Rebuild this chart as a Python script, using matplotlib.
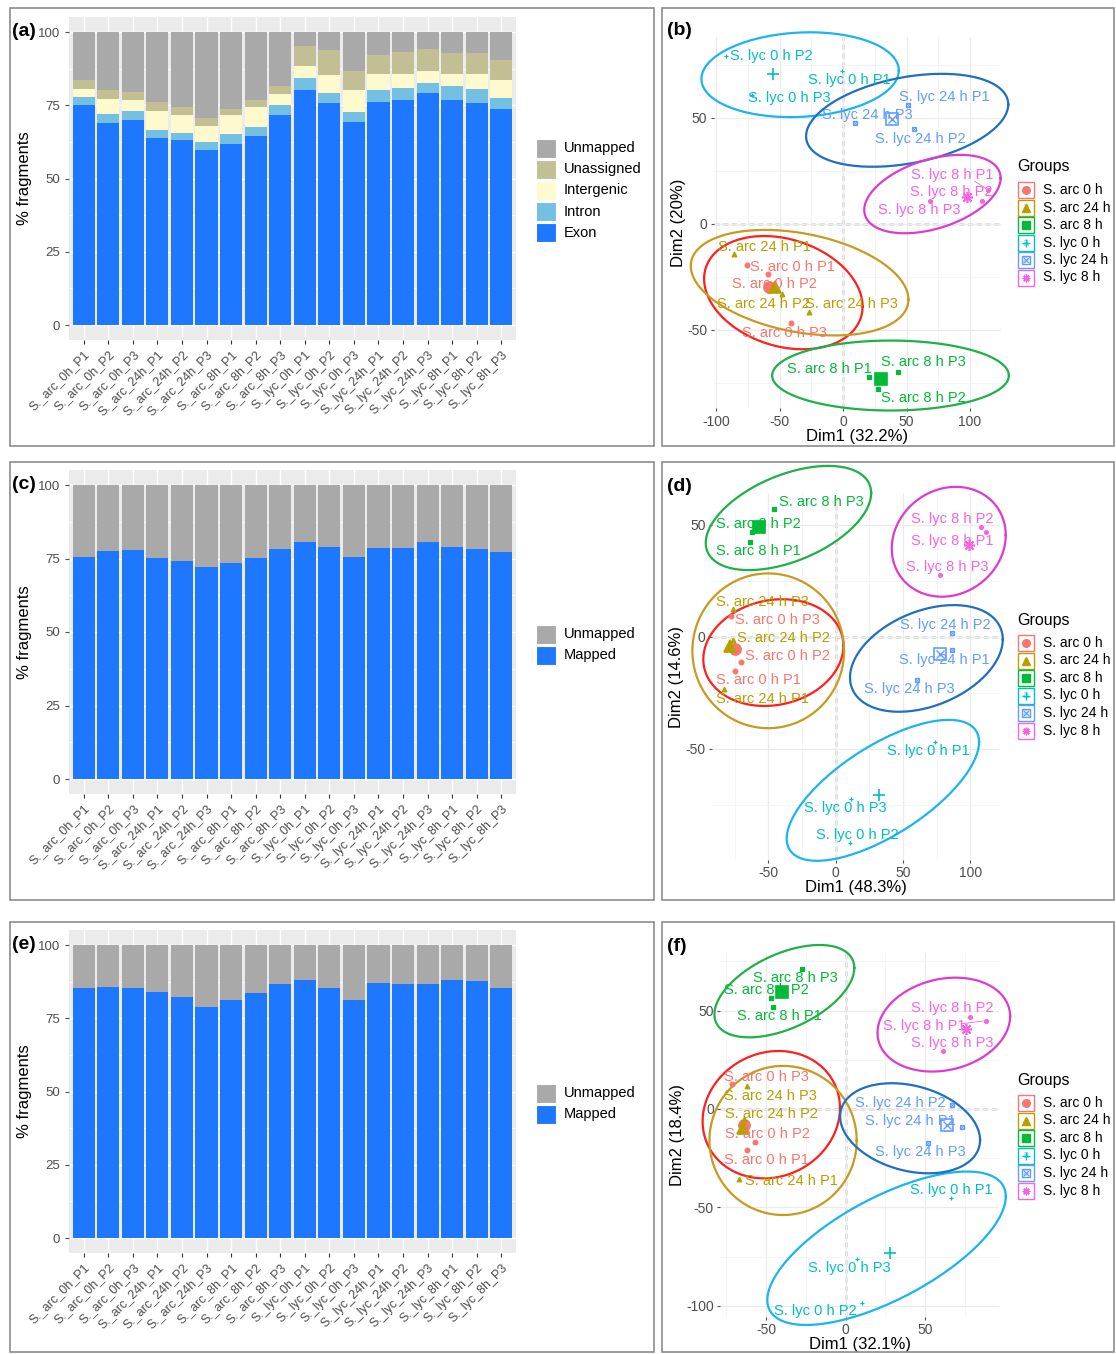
import numpy as np
import matplotlib.pyplot as plt
from matplotlib.patches import Rectangle

plt.rcParams['font.family'] = ['Liberation Sans', 'DejaVu Sans']
plt.rcParams['axes.unicode_minus'] = False

W, H = 1116, 1354

# ---------------- data: bar panels ----------------
samples = ['S._arc_0h_P1', 'S._arc_0h_P2', 'S._arc_0h_P3',
           'S._arc_24h_P1', 'S._arc_24h_P2', 'S._arc_24h_P3',
           'S._arc_8h_P1', 'S._arc_8h_P2', 'S._arc_8h_P3',
           'S._lyc_0h_P1', 'S._lyc_0h_P2', 'S._lyc_0h_P3',
           'S._lyc_24h_P1', 'S._lyc_24h_P2', 'S._lyc_24h_P3',
           'S._lyc_8h_P1', 'S._lyc_8h_P2', 'S._lyc_8h_P3']

exon = [75.0, 69.0, 69.9, 64.0, 63.1, 59.9, 61.9, 64.4, 71.6,
        80.3, 75.8, 69.3, 76.1, 76.7, 79.1, 76.8, 75.8, 73.9]
intron = [2.8, 2.9, 3.1, 2.5, 2.6, 2.6, 3.2, 3.2, 3.6,
          4.0, 3.5, 3.4, 4.0, 4.3, 3.5, 4.7, 4.9, 3.7]
intergenic = [2.9, 5.1, 3.7, 6.5, 6.1, 5.6, 6.5, 6.8, 3.8,
              4.0, 5.9, 7.4, 5.5, 4.8, 4.0, 4.1, 4.9, 5.9]
unassigned = [2.8, 3.3, 2.8, 3.0, 2.6, 2.6, 2.0, 2.3, 2.6,
              6.8, 8.6, 6.7, 6.7, 7.4, 7.5, 7.2, 7.2, 7.1]

mapped_c = [75.6, 77.6, 77.9, 75.1, 74.1, 72.1, 73.5, 75.2, 78.1,
            80.6, 79.0, 75.6, 78.7, 78.6, 80.5, 79.0, 78.3, 77.3]
mapped_e = [85.2, 85.6, 85.5, 84.0, 82.1, 78.7, 81.2, 83.8, 86.8,
            88.2, 85.2, 81.2, 87.2, 86.7, 86.7, 88.1, 87.9, 85.5]

# ---------------- data: PCA panels ----------------
groups = ['S. arc 0 h', 'S. arc 24 h', 'S. arc 8 h', 'S. lyc 0 h', 'S. lyc 24 h', 'S. lyc 8 h']
reps = ['P1', 'P2', 'P3']

b_dim1 = [-75.9, -59.2, -40.8, -85.9, -47.9, -27.0, 20.7, 27.2, 42.9,
          -0.8, -92.4, -71.5, 51.0, 55.5, 9.2, 114.4, 109.2, 68.1]
b_dim2 = [-19.3, -23.7, -46.5, -14.2, -33.0, -41.4, -72.0, -78.0, -70.0,
          72.3, 79.2, 60.8, 56.1, 44.7, 47.5, 16.0, 10.7, 11.0]

d_dim1 = [-74.8, -70.5, -78.0, -82.7, -76.5, -76.0, -63.4, -61.9, -45.5,
          74.0, 10.6, 11.4, 86.6, 86.6, 60.1, 111.4, 107.9, 77.5]
d_dim2 = [-15.2, -11.1, 9.2, -23.5, -1.5, 12.3, 42.3, 46.8, 56.9,
          -47.1, -91.8, -72.4, -5.9, 1.5, -19.3, 46.8, 48.7, 27.5]

f_dim1 = [-62.3, -57.0, -71.7, -67.1, -63.8, -62.3, -45.5, -47.2, -27.3,
          66.0, 10.1, 6.9, 73.4, 66.7, 51.6, 88.3, 78.2, 61.0]
f_dim2 = [-20.8, -16.6, 12.7, -35.8, -5.3, 11.7, 51.7, 56.3, 71.0,
          -45.4, -98.5, -76.4, -9.0, 2.0, -17.5, 44.9, 47.0, 29.5]

# confidence ellipses: centre x, centre y, x radius, tilt, y radius
b_ell = [(-47.0, -32.4, 62.4, -6.5, 25.9), (-34.2, -27.7, 85.7, -7.9, 23.6),
         (37.4, -71.5, 93.2, 0.0, 16.5), (-33.8, 70.4, 77.7, 2.0, 19.9),
         (50.5, 48.9, 79.6, 7.5, 20.6), (70.4, 14.1, 53.7, 7.5, 16.9)]
d_ell = [(-46.3, -7.1, 52.0, 3.0, 23.6), (-50.1, -6.3, 56.3, 0.0, 34.5),
         (-35.1, 52.9, 61.4, 11.1, 20.4), (35.0, -68.5, 71.4, 21.5, 22.9),
         (67.3, -9.7, 56.7, 8.5, 22.2), (83.9, 42.3, 42.3, 3.0, 24.3)]
f_ell = [(-46.8, -2.9, 43.2, 3.4, 32.2), (-39.4, -16.0, 46.3, 0.0, 37.9),
         (-38.6, 59.9, 44.0, 11.8, 20.3), (25.7, -70.8, 75.0, 26.3, 28.8),
         (40.5, -9.8, 44.0, -6.0, 22.1), (61.7, 42.9, 41.7, 4.2, 23.5)]

# label offsets (pixels) for the repelled text
b_off = [(46, -2), (7, -10), (-7, -10), (30, 7), (-19, -10), (43, 8),
         (-40, 8), (46, -9), (26, 10), (7, -9), (46, 0), (37, -3),
         (37, 8), (7, -10), (13, 8), (-36, 15), (-30, 9), (-10, -9)]
d_off = [(23, -9), (47, 6), (47, -4), (38, -10), (51, 2), (29, 7),
         (8, -9), (6, 8), (47, 7), (-7, -9), (7, 8), (-6, -9),
         (-8, -10), (-7, 8), (-7, -9), (-34, -9), (-29, 8), (7, 8)]
f_off = [(20, -10), (12, 8), (35, 7), (52, -2), (27, 5), (24, -10),
         (6, -9), (-4, 8), (-7, -9), (1, 8), (-46, -8), (-7, -9),
         (-52, 6), (-51, 2), (-7, -9), (-62, -5), (-18, 9), (10, 8)]

hue = ['#F8766D', '#B79F00', '#00BA38', '#00BFC4', '#619CFF', '#F564E3']
ell_col = ['#FF1F1F', '#C99A22', '#1FB048', '#1AB4EE', '#1F6FC0', '#DD3BD0']
markers = ['o', '^', 's', '+', 's', (8, 2, 0)]

bar_cols = {'Unmapped': '#A9A9A9', 'Unassigned': '#C3BF94', 'Intergenic': '#FFFACD',
            'Intron': '#74C0E3', 'Exon': '#1E78FF', 'Mapped': '#1E78FF'}

fig = plt.figure(figsize=(W / 100, H / 100), dpi=100)


def px_rect(l, t, r, b):
    return [l / W, 1 - b / H, (r - l) / W, (b - t) / H]


# panel frames
for (l, t, r, b) in [(10, 8, 654, 446), (662, 8, 1114, 446), (10, 462, 654, 900),
                     (662, 462, 1114, 900), (10, 922, 654, 1352), (662, 922, 1114, 1352)]:
    fig.patches.append(Rectangle((l / W, 1 - b / H), (r - l) / W, (b - t) / H,
                                 transform=fig.transFigure, fill=False,
                                 edgecolor='#8C8C8C', lw=1.2))


def bar_panel(rect, layers, tag, leg_top):
    ax = fig.add_axes(px_rect(*rect))
    ax.set_facecolor('#EBEBEB')
    x = np.arange(1, len(samples) + 1)
    bottom = np.zeros(len(samples))
    for name, vals in layers:
        ax.bar(x, vals, bottom=bottom, width=0.9, color=bar_cols[name], zorder=3)
        bottom += np.array(vals)
    ax.set_xlim(0.4, len(samples) + 0.6)
    ax.set_ylim(-5, 105)
    ax.set_yticks([0, 25, 50, 75, 100])
    ax.set_yticks([12.5, 37.5, 62.5, 87.5], minor=True)
    ax.set_xticks(x)
    ax.set_xticklabels(samples, rotation=45, ha='right', va='top',
                       rotation_mode='anchor', fontsize=9, color='#4D4D4D')
    ax.tick_params(axis='y', labelsize=9.5, colors='#4D4D4D', length=3, width=0.8)
    ax.tick_params(axis='x', length=3, width=0.8, colors='#333333', labelcolor='#4D4D4D')
    ax.tick_params(which='minor', length=0)
    ax.grid(True, which='major', color='white', lw=1.0, zorder=0)
    ax.grid(True, which='minor', axis='y', color='white', lw=0.5, zorder=0)
    for s in ax.spines.values():
        s.set_visible(False)
    ax.set_ylabel('% fragments', fontsize=12, labelpad=4)
    fig.text(12 / W, 1 - (rect[1] + 14) / H, tag, fontsize=14, fontweight='bold',
             va='center', ha='left')
    # legend, top entry first
    names = [n for n, _ in layers][::-1]
    for i, n in enumerate(names):
        yc = leg_top + i * 21.2
        fig.patches.append(Rectangle(((rect[2] + 20) / W, 1 - (yc + 9.5) / H), 20 / W, 19 / H,
                                     transform=fig.transFigure, facecolor=bar_cols[n],
                                     edgecolor='white', lw=0.8))
        fig.text((rect[2] + 48) / W, 1 - yc / H, n, fontsize=10.5, va='center', ha='left')
    return ax


unmapped = [100 - a - b - c - d for a, b, c, d in zip(exon, intron, intergenic, unassigned)]
bar_panel((69, 17.4, 516, 339.7),
          [('Exon', exon), ('Intron', intron), ('Intergenic', intergenic),
           ('Unassigned', unassigned), ('Unmapped', unmapped)], '(a)', 148)
bar_panel((69, 470.3, 516, 793.7),
          [('Mapped', mapped_c), ('Unmapped', [100 - v for v in mapped_c])], '(c)', 634)
bar_panel((69, 930.4, 516, 1252.7),
          [('Mapped', mapped_e), ('Unmapped', [100 - v for v in mapped_e])], '(e)', 1093)


def pca_panel(rect, xlim, ylim, xt, yt, dim1, dim2, ell, off, xlab, ylab, tag,
              seg, leg_top):
    ax = fig.add_axes(px_rect(*rect))
    ax.set_xticks(xt)
    ax.set_yticks(yt)
    ax.set_xticks(np.arange(xt[0] - 25, xt[-1] + 26, 50), minor=True)
    ax.set_yticks(np.arange(yt[0] - 25, yt[-1] + 26, 50), minor=True)
    ax.set_xlim(*xlim)
    ax.set_ylim(*ylim)
    ax.grid(True, which='major', color='#EBEBEB', lw=0.9, zorder=0)
    ax.grid(True, which='minor', color='#F4F4F4', lw=0.6, zorder=0)
    for s in ax.spines.values():
        s.set_visible(False)
    ax.tick_params(labelsize=10, colors='#4D4D4D', length=2.5, width=0.8, pad=2)
    ax.tick_params(which='minor', length=0)
    ax.axhline(0, color='black', lw=0.9, ls=(0, (4, 3)), zorder=1)
    ax.axvline(0, color='black', lw=0.9, ls=(0, (4, 3)), zorder=1)
    t = np.linspace(0, 2 * np.pi, 240)
    for g in range(len(groups)):
        cx, cy, rx, tilt, ry = ell[g]
        ax.plot(cx + rx * np.cos(t), cy + tilt * np.cos(t) + ry * np.sin(t),
                color=ell_col[g], lw=1.6, clip_on=False, zorder=2)
        xs = np.array(dim1[3 * g:3 * g + 3])
        ys = np.array(dim2[3 * g:3 * g + 3])
        face = 'none' if g == 4 else hue[g]
        ax.plot(xs, ys, ls='none', marker=markers[g], ms=3.4, mfc=face,
                mec=hue[g], mew=0.9, clip_on=False, zorder=4)
        ax.plot(xs.mean(), ys.mean(), ls='none', marker=markers[g], ms=8, mfc=face,
                mec=hue[g], mew=1.2, clip_on=False, zorder=4)
        if g == 4:
            ax.plot(xs, ys, ls='none', marker='x', ms=2.6, mec=hue[g], mew=0.7, zorder=4)
            ax.plot(xs.mean(), ys.mean(), ls='none', marker='x', ms=6, mec=hue[g],
                    mew=1.0, zorder=4)
        for k in range(3):
            i = 3 * g + k
            dx, dy = off[i]
            ax.annotate(groups[g] + ' ' + reps[k], (dim1[i], dim2[i]),
                        xytext=(dx, dy), textcoords='offset pixels',
                        ha='center', va='center', fontsize=10.5, color=hue[g],
                        annotation_clip=False, zorder=5)
            if i in seg:
                ax.annotate('', (dim1[i], dim2[i]), xytext=(dx * 0.45, dy * 0.7),
                            textcoords='offset pixels',
                            arrowprops=dict(arrowstyle='-', color=hue[g], lw=0.6))
    ax.set_xlabel(xlab, fontsize=12, labelpad=0)
    ax.set_ylabel(ylab, fontsize=12, labelpad=1)
    fig.text(667 / W, 1 - (rect[1] - 7) / H, tag, fontsize=14, fontweight='bold',
             va='center', ha='left')
    # legend
    fig.text(1017 / W, 1 - leg_top / H, 'Groups', fontsize=11.5, va='center', ha='left')
    lax = fig.add_axes(px_rect(1015, leg_top + 12, 1116, leg_top + 125))
    lax.set_xlim(1015, 1116)
    lax.set_ylim(leg_top + 125, leg_top + 12)
    lax.axis('off')
    for g in range(len(groups)):
        yc = leg_top + 23 + g * 17.5
        lax.add_patch(Rectangle((1018, yc - 8), 16, 16, facecolor='white',
                                edgecolor=hue[g], lw=1.0))
        lax.text(1026, yc, 'a', color=hue[g], alpha=0.5, fontsize=8,
                 ha='center', va='center')
        face = 'none' if g == 4 else hue[g]
        lax.plot(1026, yc, marker=markers[g], ms=5.5, mfc=face, mec=hue[g], mew=1.0)
        if g == 4:
            lax.plot(1026, yc, marker='x', ms=4, mec=hue[g], mew=0.8)
        lax.text(1043, yc, groups[g], fontsize=10, ha='left', va='center')
    return ax


pca_panel((713.5, 37.4, 1000.5, 408.4), (-102, 124), (-87, 88),
          [-100, -50, 0, 50, 100], [-50, 0, 50], b_dim1, b_dim2, b_ell, b_off,
          'Dim1 (32.2%)', 'Dim2 (20%)', '(b)', [15], 167)
pca_panel((711.8, 493.1, 999.4, 860.1), (-92, 121.5), (-99.6, 64),
          [-50, 0, 50, 100], [-50, 0, 50], d_dim1, d_dim2, d_ell, d_off,
          'Dim1 (48.3%)', 'Dim2 (14.6%)', '(d)', [], 620)
pca_panel((720.1, 953.2, 999.3, 1316.7), (-79, 96.6), (-105.6, 79.2),
          [-50, 0, 50], [-100, -50, 0, 50], f_dim1, f_dim2, f_ell, f_off,
          'Dim1 (32.1%)', 'Dim2 (18.4%)', '(f)', [15], 1080)

fig.savefig('out.png', dpi=100)
